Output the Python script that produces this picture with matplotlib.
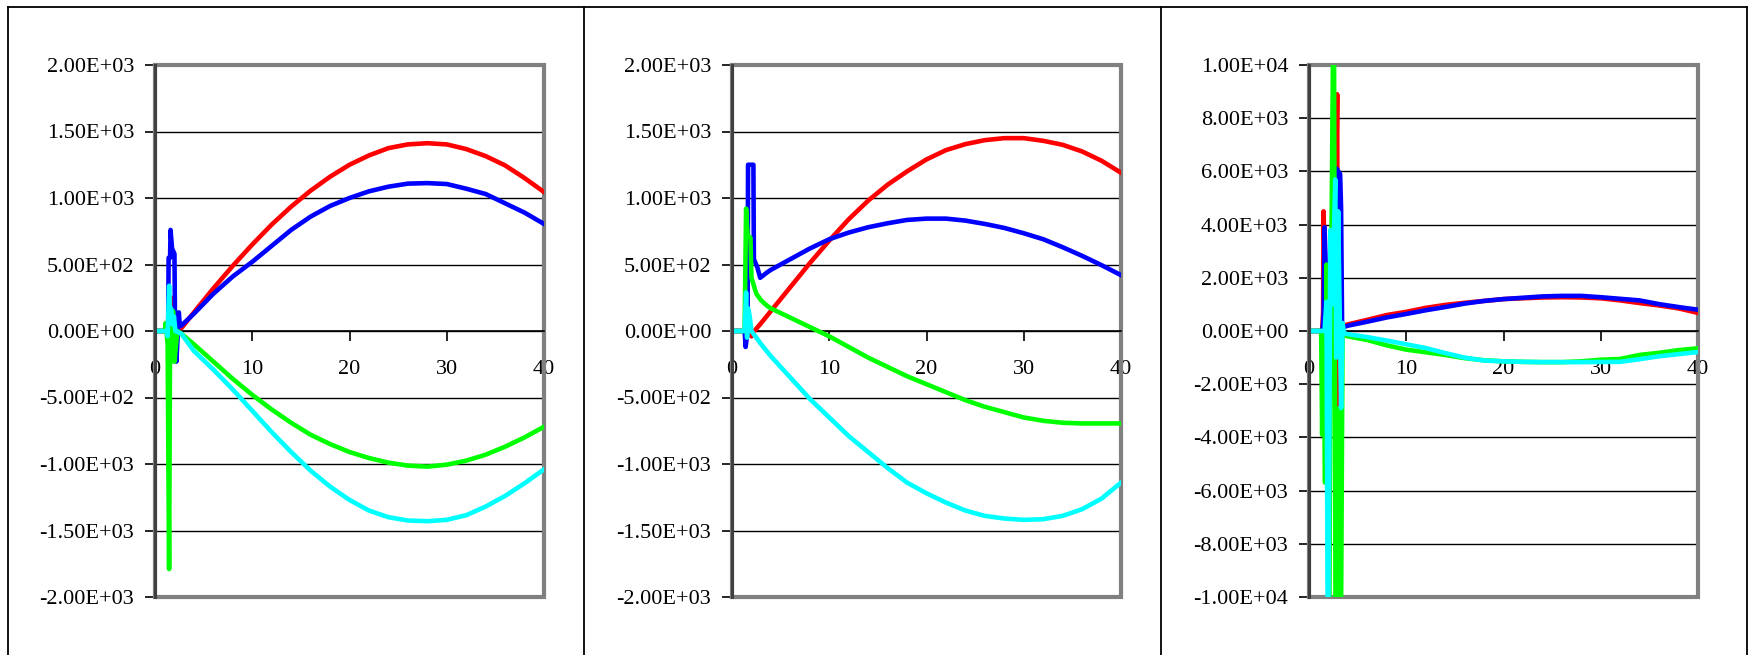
import matplotlib.pyplot as plt
from matplotlib.lines import Line2D
from matplotlib.patches import Rectangle
from matplotlib.ticker import FuncFormatter
import numpy as np

plt.rcParams['font.family'] = ['Liberation Serif', 'DejaVu Serif']

# common x positions after the start-up transient
X_TAIL = [4, 6, 8, 10, 12, 14, 16, 18, 20, 22, 24, 26, 28, 30, 32, 34, 36, 38, 40]

# ---- panel 1 ----
a_red_x0 = [0, 1.3, 1.5, 1.7, 2.0, 2.3, 2.7]
a_red_y0 = [0, 0, 150, 250, 100, 30, 20]
a_red = [140, 320, 490, 650, 800, 935, 1055, 1160, 1250, 1320, 1375, 1403, 1412, 1403, 1368, 1315, 1245, 1150, 1045]

a_blue_x0 = [0, 1.35, 1.4, 1.55, 1.6, 1.75, 2.0, 2.05, 2.2, 2.45, 2.55, 2.7]
a_blue_y0 = [0, 0, 550, 550, 760, 620, 580, 130, -230, 140, 40, 40]
a_blue = [130, 280, 410, 520, 640, 760, 860, 940, 1000, 1050, 1085, 1108, 1112, 1105, 1070, 1030, 960, 890, 805]

a_green_x0 = [0, 1.0, 1.1, 1.3, 1.45, 1.55, 1.7, 1.85, 2.0, 2.3, 2.7]
a_green_y0 = [0, 0, 60, -100, -1790, 0, -230, 150, -230, 0, -20]
a_green = [-100, -230, -360, -480, -590, -690, -780, -850, -910, -955, -990, -1012, -1020, -1005, -975, -930, -870, -800, -720]

a_cyan_x0 = [0, 1.2, 1.3, 1.45, 1.55, 1.65, 1.8, 1.95, 2.1, 2.4, 2.7]
a_cyan_y0 = [0, 0, -40, 340, 120, 170, 50, 110, 0, -10, -20]
a_cyan = [-150, -290, -440, -600, -760, -910, -1050, -1170, -1270, -1350, -1400, -1425, -1430, -1420, -1385, -1320, -1240, -1145, -1040]

# ---- panel 2 ----
b_red_x0 = [0, 1.5, 1.7, 2.0, 2.3, 3.0]
b_red_y0 = [0, 0, -30, -40, 0, 60]
b_red = [150, 330, 510, 680, 840, 980, 1100, 1200, 1290, 1360, 1405, 1435, 1450, 1450, 1430, 1400, 1350, 1280, 1190]

b_blue_x0 = [0, 1.3, 1.4, 1.6, 1.65, 2.2, 2.25, 2.6, 2.9, 3.6]
b_blue_y0 = [0, 0, -120, 0, 1250, 1250, 540, 480, 400, 440]
b_blue = [460, 540, 620, 690, 740, 780, 810, 835, 845, 845, 830, 805, 775, 735, 690, 630, 565, 495, 420]

b_green_x0 = [0, 1.2, 1.3, 1.45, 1.6, 1.9, 2.0, 2.5, 3.0, 3.6]
b_green_y0 = [0, 0, 30, 920, 720, 700, 400, 280, 230, 190]
b_green = [170, 100, 30, -40, -120, -200, -270, -340, -400, -460, -520, -570, -610, -650, -675, -690, -695, -695, -695]

b_cyan_x0 = [0, 1.3, 1.45, 1.55, 1.65, 1.8, 2.0, 2.3, 3.0]
b_cyan_y0 = [0, 0, 290, -50, 170, 120, 0, -30, -100]
b_cyan = [-190, -350, -510, -650, -790, -910, -1030, -1140, -1220, -1290, -1350, -1390, -1410, -1420, -1415, -1390, -1340, -1260, -1140]

# ---- panel 3 ----
c_red_x0 = [0, 1.35, 1.45, 1.5, 1.65, 1.8, 2.6, 2.9, 2.95, 3.0, 3.1, 3.6]
c_red_y0 = [0, 0, 700, 4500, 2000, 0, 0, 8900, -2550, -14000, 0, 200]
c_red = [250, 420, 600, 720, 870, 980, 1060, 1130, 1200, 1230, 1260, 1270, 1260, 1230, 1150, 1050, 960, 850, 680]

c_blue_x0 = [0, 1.4, 1.5, 1.6, 1.75, 1.9, 2.8, 2.85, 3.2, 3.3, 3.4, 3.6]
c_blue_y0 = [0, 0, 600, 3900, 2100, 0, 0, 6100, 5900, 4600, 300, 150]
c_blue = [200, 350, 510, 640, 780, 900, 1030, 1130, 1200, 1250, 1300, 1320, 1320, 1270, 1210, 1150, 1010, 900, 800]

c_green_x0 = [0, 1.25, 1.35, 1.5, 1.65, 1.8, 2.05, 2.2, 2.55, 2.75, 3.1, 3.25, 3.45, 3.6]
c_green_y0 = [0, 0, -3900, 0, -5700, 2500, -14000, -1300, 14000, -14000, -2900, -14000, 0, -150]
c_green = [-200, -340, -540, -700, -800, -900, -1020, -1100, -1140, -1160, -1170, -1170, -1140, -1080, -1050, -900, -820, -720, -650]

c_cyan_x0 = [0, 1.6, 1.8, 1.95, 2.2, 2.4, 2.7, 2.8, 3.0, 3.3, 3.45, 3.6]
c_cyan_y0 = [0, 0, 1100, -14000, 3800, 1000, 5700, -1000, 4500, -2900, 300, -80]
c_cyan = [-120, -230, -360, -500, -640, -830, -1000, -1110, -1140, -1160, -1170, -1170, -1170, -1165, -1160, -1060, -950, -870, -790]

COLORS = ['#ff0000', '#0000ff', '#00ff00', '#00ffff']

panels = [
    ([(a_red_x0, a_red_y0, a_red), (a_blue_x0, a_blue_y0, a_blue),
      (a_green_x0, a_green_y0, a_green), (a_cyan_x0, a_cyan_y0, a_cyan)], 2000, 500),
    ([(b_red_x0, b_red_y0, b_red), (b_blue_x0, b_blue_y0, b_blue),
      (b_green_x0, b_green_y0, b_green), (b_cyan_x0, b_cyan_y0, b_cyan)], 2000, 500),
    ([(c_red_x0, c_red_y0, c_red), (c_blue_x0, c_blue_y0, c_blue),
      (c_green_x0, c_green_y0, c_green), (c_cyan_x0, c_cyan_y0, c_cyan)], 10000, 2000),
]

W, H = 1748, 655
fig = plt.figure(figsize=(W / 100, H / 100), dpi=100)

lefts = [155, 732, 1309]
for left, (series, ylim, ystep) in zip(lefts, panels):
    ax = fig.add_axes([left / W, 58 / H, 389 / W, 532 / H])
    for (hx, hy, tail), col in zip(series, COLORS):
        ax.plot(hx + X_TAIL, hy + tail, color=col, lw=3.3, zorder=3)

    ax.set_xlim(0, 40)
    ax.set_ylim(-ylim, ylim)
    ax.set_xticks([0, 10, 20, 30, 40])
    ax.set_yticks(np.arange(-ylim, ylim + ystep / 2, ystep))
    ax.yaxis.set_major_formatter(FuncFormatter(lambda v, p: f"{v:.2E}"))
    ax.grid(axis='y', color='black', lw=1.0, zorder=1)
    ax.set_axisbelow(True)

    for s in ['top', 'right']:
        ax.spines[s].set_visible(False)
    ax.spines['left'].set_color('#404040')
    ax.spines['left'].set_linewidth(2.2)
    ax.spines['left'].set_zorder(4)
    ax.spines['bottom'].set_position(('data', 0))
    ax.spines['bottom'].set_color('black')
    ax.spines['bottom'].set_linewidth(1.2)

    ax.tick_params(axis='y', direction='out', length=7, width=1.2, pad=8, labelsize=16)
    ax.tick_params(axis='x', direction='out', length=7, width=1.2, pad=14, labelsize=16)

    # plot-area border
    ax.add_patch(Rectangle((0, 0), 1, 1, transform=ax.transAxes, fill=False,
                           edgecolor='#808080', lw=3, zorder=2.5, clip_on=False))

# outer frame and dividers between the charts
top = 1 - 6.7 / H
for x0 in [8, 584, 1161, 1746.5]:
    fig.add_artist(Line2D([x0 / W, x0 / W], [0, top], color='black', lw=1.3))
fig.add_artist(Line2D([8 / W, 1746.5 / W], [top, top], color='black', lw=1.3))

fig.savefig('out.png', dpi=100)
